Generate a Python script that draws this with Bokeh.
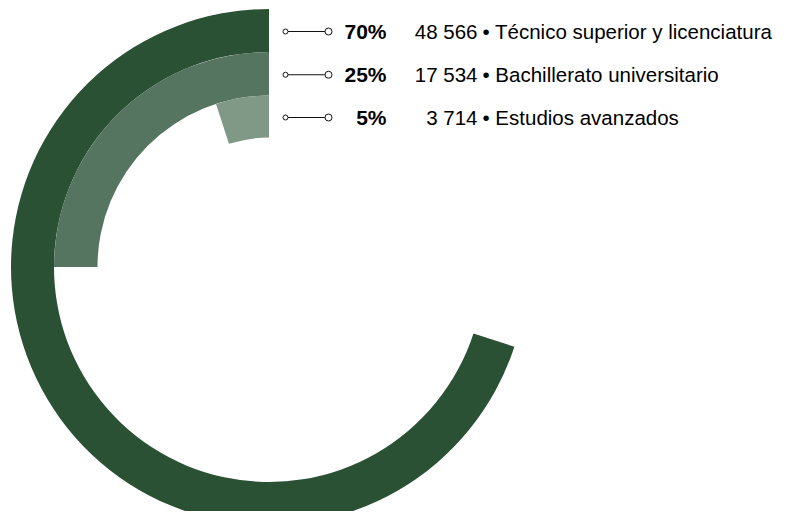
import math
from bokeh.plotting import figure
from bokeh.models import ColumnDataSource, Range1d
from bokeh.core.properties import value
from bokeh.embed import file_html
from bokeh.resources import INLINE

categories = ["Técnico superior y licenciatura", "Bachillerato universitario", "Estudios avanzados"]
counts = [48566, 17534, 3714]
percents = [70, 25, 5]
count_labels = ["48 566", "17 534", "3 714"]
pct_labels = ["70%", "25%", "5%"]
colors = ["#2a5134", "#557560", "#7f9986"]

W, H = 783, 511
cx, cy = 268.5, H - 266.5
r_outer = [258, 215, 171.5]
r_inner = [215, 171.5, 129.5]

p = figure(width=W, height=H, output_backend="svg", toolbar_location=None,
           x_range=Range1d(0, W), y_range=Range1d(0, H), min_border=0)
p.axis.visible = False
p.grid.visible = False
p.outline_line_color = None
p.background_fill_color = "white"
p.border_fill_color = "white"

start = [math.pi / 2] * 3
end = [math.pi / 2 + 2 * math.pi * v / 100 for v in percents]
src = ColumnDataSource(dict(x=[cx] * 3, y=[cy] * 3, ir=r_inner, orr=r_outer,
                            s=start, e=end, c=colors))
p.annular_wedge(x="x", y="y", inner_radius="ir", outer_radius="orr",
                start_angle="s", end_angle="e", direction="anticlock",
                fill_color="c", line_color=None, source=src)

row_y = [cy + (a + b) / 2 - 1 for a, b in zip(r_outer, r_inner)]
lx0, lx1 = 285, 328
p.segment(x0=[lx0] * 3, y0=row_y, x1=[lx1] * 3, y1=row_y, line_color="#111111", line_width=1)
p.scatter(x=[lx0] * 3, y=row_y, size=5, marker="circle",
          fill_color="white", line_color="#111111", line_width=1)
p.scatter(x=[lx1] * 3, y=row_y, size=7, marker="circle",
          fill_color="white", line_color="#111111", line_width=1)

p.text(x=[386] * 3, y=row_y, text=pct_labels, text_font=value("Liberation Sans"),
       text_font_size="21px", text_font_style="bold", text_align="right",
       text_baseline="middle", text_color="#000000")
p.text(x=[477] * 3, y=row_y, text=count_labels, text_font=value("Liberation Sans"),
       text_font_size="20.5px", text_align="right", text_baseline="middle", text_color="#000000")
p.text(x=[482] * 3, y=row_y, text=["• " + c for c in categories], text_font=value("Liberation Sans"),
       text_font_size="20.5px", text_align="left", text_baseline="middle", text_color="#000000")

open("out.html", "w").write(file_html(p, INLINE))
